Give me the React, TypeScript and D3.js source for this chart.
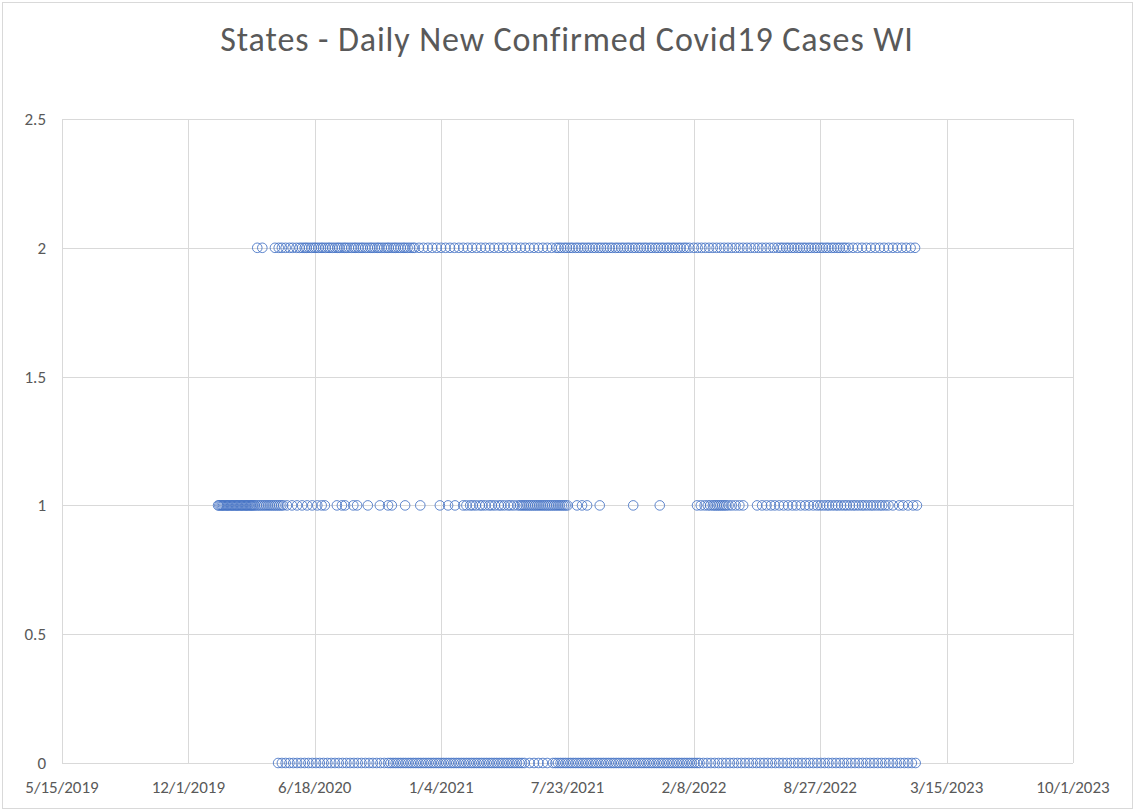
import React from "react";
import * as d3 from "d3";

// Excel serial dates (5/15/2019 = 43600), one array per y-level
const level2Dates = [
  43909, 43917,
  43937, 43943, 43948, 43954, 43960, 43965, 43971, 43976,
  43980, 43984, 43987, 43991, 43995, 43999, 44002, 44006, 44010, 44013, 44017, 44021, 44024, 44028, 44032,
  44036, 44039, 44043, 44047, 44050, 44054, 44058, 44062, 44065, 44069, 44073, 44076, 44080, 44084, 44088,
  44091, 44095, 44099, 44102, 44106, 44110, 44114, 44117, 44121, 44125, 44128, 44132, 44136, 44140, 44143,
  44147, 44151, 44155, 44158,
  44165, 44172, 44179, 44186, 44193, 44200, 44207, 44214, 44221, 44228, 44235, 44242, 44249, 44256, 44263,
  44270, 44277, 44284, 44291, 44298, 44305, 44312, 44319, 44326, 44333, 44340, 44347, 44354, 44361, 44368,
  44375, 44382,
  44386, 44390, 44395, 44399, 44404, 44408, 44413, 44417, 44422, 44426, 44431, 44435, 44440, 44444, 44449,
  44453, 44458, 44462, 44467, 44471, 44476, 44480, 44485, 44489, 44494, 44498, 44503, 44507, 44512, 44516,
  44521, 44525, 44530, 44534, 44539, 44543, 44548, 44552, 44557, 44561, 44566, 44570, 44575, 44579, 44584,
  44588, 44593,
  44600, 44606, 44612, 44618, 44624, 44630, 44636, 44642, 44648, 44654, 44660, 44666, 44672, 44678, 44684,
  44690, 44696, 44702, 44708, 44714, 44720, 44726, 44732,
  44737, 44741, 44746, 44750, 44755, 44759, 44764, 44768, 44773, 44777, 44782, 44786, 44791, 44795, 44800,
  44804, 44809, 44813, 44818, 44822, 44827, 44831, 44836, 44840, 44845,
  44852, 44859, 44866, 44873, 44880, 44887, 44894, 44901, 44908, 44915, 44922, 44929, 44936, 44943, 44950,
];

const level1Dates = [
  43847, 43849, 43851, 43853, 43855, 43857, 43859, 43861, 43863, 43865, 43867, 43869, 43871, 43873, 43875,
  43877, 43879, 43881, 43883, 43885, 43887, 43889, 43891, 43893, 43895, 43897, 43899, 43901, 43903, 43905,
  43908, 43911, 43914, 43917, 43920, 43923, 43926, 43929, 43932, 43935, 43938, 43941, 43944, 43947, 43950,
  43956, 43964, 43972, 43980, 43988, 43996, 44004, 44011, 44016,
  44035, 44043, 44048, 44061, 44067, 44084, 44103, 44116, 44122, 44143, 44167, 44198, 44211, 44222,
  44235, 44240, 44246, 44250, 44255, 44261, 44265, 44270, 44276, 44280, 44285, 44291, 44295, 44300, 44306,
  44310, 44315, 44321, 44325,
  44328, 44331, 44334, 44337, 44340, 44343, 44346, 44349, 44352, 44355, 44358, 44361, 44364, 44367, 44370,
  44373, 44376, 44379, 44382, 44385, 44388, 44391, 44394, 44397, 44400,
  44415, 44423, 44431, 44451, 44504, 44546,
  44605, 44611, 44617, 44622, 44626, 44630, 44633, 44636, 44639, 44642, 44645, 44648, 44651, 44655, 44660,
  44666, 44672, 44678,
  44700, 44708, 44715, 44722, 44728, 44735, 44742, 44749, 44756, 44762, 44769, 44776, 44782, 44789, 44795,
  44800, 44805, 44810, 44814, 44819, 44824, 44828, 44833, 44838, 44842, 44847, 44852, 44856, 44861, 44866,
  44870, 44875, 44880, 44884, 44889, 44894, 44898, 44903, 44908, 44915, 44925, 44931, 44939, 44947, 44953,
];

const level0Dates = [
  43942, 43948, 43954, 43960, 43966, 43972, 43978, 43984, 43990, 43996, 44002, 44008, 44014, 44020, 44026,
  44032, 44038, 44044, 44050, 44056, 44062, 44068, 44074, 44080, 44086, 44092, 44098, 44104, 44110, 44116,
  44120, 44124, 44128, 44132, 44136, 44140, 44144, 44148, 44152, 44156, 44160, 44164, 44168, 44172, 44176,
  44180, 44184, 44188, 44192, 44196, 44200, 44204, 44208, 44212, 44216, 44220, 44224, 44228, 44232, 44236,
  44240, 44244, 44248, 44252, 44256, 44260, 44264, 44268, 44272, 44276, 44280, 44284, 44288, 44292, 44296,
  44300, 44304, 44308, 44312, 44316, 44320, 44324, 44328, 44332,
  44340, 44347, 44354, 44361, 44368,
  44377, 44381, 44385, 44389, 44393, 44397, 44401, 44405, 44409, 44413, 44417, 44421, 44425, 44429, 44433,
  44437, 44441, 44445, 44449, 44453, 44457, 44461, 44465, 44469, 44473, 44477, 44481, 44485, 44489, 44493,
  44497, 44501, 44505, 44509, 44513, 44517, 44521, 44525, 44529, 44533, 44537, 44541, 44545, 44549, 44553,
  44557, 44561, 44565, 44569, 44573, 44577, 44581, 44585, 44589, 44593, 44597, 44601, 44605, 44609,
  44615, 44621, 44627, 44633, 44639, 44645, 44651, 44657, 44663, 44669, 44675, 44681, 44687, 44693, 44699,
  44705, 44711, 44717, 44723, 44729, 44735, 44741, 44747, 44753, 44759, 44765, 44771, 44777, 44783, 44789,
  44795, 44801, 44807, 44813, 44819, 44825, 44831, 44837, 44843, 44849, 44855, 44861, 44867, 44873, 44879,
  44885, 44891, 44897, 44903, 44909, 44915, 44921, 44927, 44933, 44939, 44945, 44951,
];

const xTicks = [43600, 43800, 44000, 44200, 44400, 44600, 44800, 45000, 45200];
const xTickLabels = ["5/15/2019", "12/1/2019", "6/18/2020", "1/4/2021", "7/23/2021", "2/8/2022", "8/27/2022", "3/15/2023", "10/1/2023"];
const yTicks = [0, 0.5, 1, 1.5, 2, 2.5];
const yTickLabels = ["0", "0.5", "1", "1.5", "2", "2.5"];

const W = 1134;
const H = 810;
const FONT = "Calibri, Carlito, 'Open Sans', sans-serif";
const TEXT = "#595959";
const GRID = "#d9d9d9";

export default function App() {
  const x = d3.scaleLinear().domain([43600, 45200]).range([62, 1073]);
  const y = d3.scaleLinear().domain([0, 2.5]).range([763, 119]);

  const points = [
    ...level2Dates.map((d) => ({ d, v: 2 })),
    ...level1Dates.map((d) => ({ d, v: 1 })),
    ...level0Dates.map((d) => ({ d, v: 0 })),
  ];

  return (
    <svg width={W} height={H} style={{ position: "absolute", left: 0, top: 0 }}>
      <rect x={0} y={0} width={W} height={H} fill="#fff" />
      <rect x={2.5} y={2.5} width={W - 4} height={H - 4} fill="none" stroke={GRID} />
      <text x={567} y={51} textAnchor="middle" fontFamily={FONT} fontSize={34} letterSpacing={0.9} fill={TEXT}>
        States - Daily New Confirmed Covid19 Cases WI
      </text>

      {/* gridlines */}
      {yTicks.map((t) => (
        <line key={"gy" + t} x1={x(43600)} x2={x(45200)} y1={Math.round(y(t)) + 0.5} y2={Math.round(y(t)) + 0.5} stroke={GRID} />
      ))}
      {xTicks.map((t) => (
        <line key={"gx" + t} x1={Math.round(x(t)) + 0.5} x2={Math.round(x(t)) + 0.5} y1={y(2.5)} y2={y(0)} stroke={GRID} />
      ))}

      {/* tick labels */}
      {yTicks.map((t, i) => (
        <text key={"ly" + t} x={46} y={y(t) + 6} textAnchor="end" fontFamily={FONT} fontSize={17} fill={TEXT}>
          {yTickLabels[i]}
        </text>
      ))}
      {xTicks.map((t, i) => (
        <text key={"lx" + t} x={x(t)} y={793} textAnchor="middle" fontFamily={FONT} fontSize={17} fill={TEXT}>
          {xTickLabels[i]}
        </text>
      ))}

      {/* markers */}
      <g fill="none" stroke="#4472c4" strokeWidth={1} strokeOpacity={0.85}>
        {points.map((p, i) => (
          <circle key={i} cx={x(p.d)} cy={y(p.v)} r={4.8} />
        ))}
      </g>
    </svg>
  );
}
